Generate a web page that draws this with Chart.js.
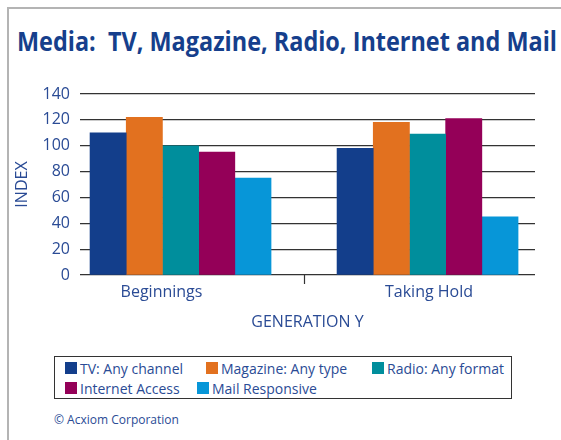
<!DOCTYPE html>
<html>
<head>
<meta charset="utf-8">
<script src="https://cdn.jsdelivr.net/npm/chart.js@4.4.1/dist/chart.umd.min.js"></script>
<style>
  body { margin: 0; background: #fff; }
  #page { position: relative; width: 561px; height: 440px; overflow: hidden; font-family: 'Open Sans', sans-serif; color: #2a4b95; }
  #frame { position: absolute; left: 7px; top: 7px; width: 600px; height: 500px; border-top: 2px solid #b4b4b4; border-left: 2px solid #b4b4b4; }
  #title { position: absolute; left: 17px; top: 28px; font-weight: 700; font-size: 26px; line-height: 26px; color: #163f8c; white-space: nowrap; transform-origin: 0 0; }
  #chartBox { position: absolute; left: 0; top: 0; width: 561px; height: 340px; }
  #legend { position: absolute; left: 54px; top: 356px; width: 456px; height: 41px; border: 1.5px solid #333; }
  .sw { position: absolute; width: 12px; height: 12px; }
  .lbl { position: absolute; font-size: 14px; line-height: 16px; white-space: nowrap; }
  #note { position: absolute; left: 54px; top: 413px; font-size: 12px; line-height: 14px; white-space: nowrap; }
</style>
</head>
<body>
<div id="page">
  <div id="frame"></div>
  <div id="title">Media:&nbsp; TV, Magazine, Radio, Internet and Mail</div>
  <div id="chartBox"><canvas id="myChart"></canvas></div>
  <div id="legend"></div>
  <div id="note">© Acxiom Corporation</div>
</div>
<script>
// chart data //
var categories = ['Beginnings', 'Taking Hold'];
var seriesNames = ['TV:  Any channel', 'Magazine:  Any type', 'Radio:  Any format', 'Internet Access', 'Mail Responsive'];
var tvValues = [110, 98];
var magazineValues = [122, 118];
var radioValues = [100, 109];
var internetValues = [95, 121];
var mailValues = [75, 45];
var yTicks = [0, 20, 40, 60, 80, 100, 120, 140];

var seriesValues = [tvValues, magazineValues, radioValues, internetValues, mailValues];
var colors = ['#133e8b', '#e2711f', '#008e9c', '#940058', '#0796d8'];
var textBlue = '#2a4b95';

// squeeze the title to the width of the original
var title = document.getElementById('title');
title.style.transform = 'scaleX(' + (540 / title.getBoundingClientRect().width) + ')';

// legend box, drawn by hand
var legendSpots = [[10, 6], [151, 6], [317, 6], [10, 26], [142, 26]];
var legend = document.getElementById('legend');
seriesNames.forEach(function (name, i) {
  var sw = document.createElement('div');
  sw.className = 'sw';
  sw.style.left = legendSpots[i][0] + 'px';
  sw.style.top = (legendSpots[i][1] - 1) + 'px';
  sw.style.background = colors[i];
  legend.appendChild(sw);
  var lbl = document.createElement('div');
  lbl.className = 'lbl';
  lbl.style.left = (legendSpots[i][0] + 15) + 'px';
  lbl.style.top = (legendSpots[i][1] - 2) + 'px';
  lbl.textContent = name;
  legend.appendChild(lbl);
});

// function for ploting graph
function renderChart() {
  var ctx = document.getElementById('myChart').getContext('2d');
  var datasets = seriesNames.map(function (name, i) {
    return {
      label: name,
      data: categories.map(function (c, j) { return { x: j + 1, y: seriesValues[i][j] }; }),
      backgroundColor: colors[i],
      borderWidth: 0,
      barThickness: 36.2
    };
  });
  return new Chart(ctx, {
    type: 'bar',
    data: { datasets: datasets },
    options: {
      responsive: true,
      maintainAspectRatio: false,
      animation: false,
      layout: { padding: { top: 94, right: 26, left: 0, bottom: 0 } },
      plugins: { legend: { display: false }, tooltip: { enabled: false } },
      scales: {
        x: {
          type: 'linear',
          offset: false,
          min: 0.593,
          max: 2.435,
          // labels sit a little off the bar groups in the original, divider tick between them
          afterBuildTicks: function (s) { s.ticks = [{ value: 0.923 }, { value: 1.5 }, { value: 2.006 }]; },
          afterFit: function (s) { s.height = 65; },
          border: { display: false },
          grid: {
            offset: false,
            drawOnChartArea: false,
            drawTicks: true,
            tickLength: 9,
            tickWidth: 1.2,
            tickColor: function (c) { return c.index === 1 ? '#333' : 'rgba(0,0,0,0)'; }
          },
          ticks: {
            padding: -1,
            color: textBlue,
            font: { family: 'Open Sans', size: 16 },
            callback: function (v, i) { return i === 0 ? categories[0] : (i === 2 ? categories[1] : ''); }
          },
          title: {
            display: true,
            text: 'GENERATION Y',
            color: textBlue,
            font: { family: 'Open Sans', size: 16 },
            padding: { top: 0, bottom: 7.6 }
          }
        },
        y: {
          min: 0,
          max: 140,
          afterBuildTicks: function (s) { s.ticks = yTicks.map(function (v) { return { value: v }; }); },
          afterFit: function (s) { s.width = 80; },
          border: { display: false },
          grid: { color: '#333', lineWidth: 1.2, drawTicks: false },
          ticks: {
            padding: 10,
            color: textBlue,
            font: { family: 'Open Sans', size: 16 }
          },
          title: {
            display: true,
            text: 'INDEX',
            color: textBlue,
            font: { family: 'Open Sans', size: 16 },
            padding: { top: 12.4, bottom: 0 }
          }
        }
      }
    }
  });
}

renderChart();
</script>
</body>
</html>
